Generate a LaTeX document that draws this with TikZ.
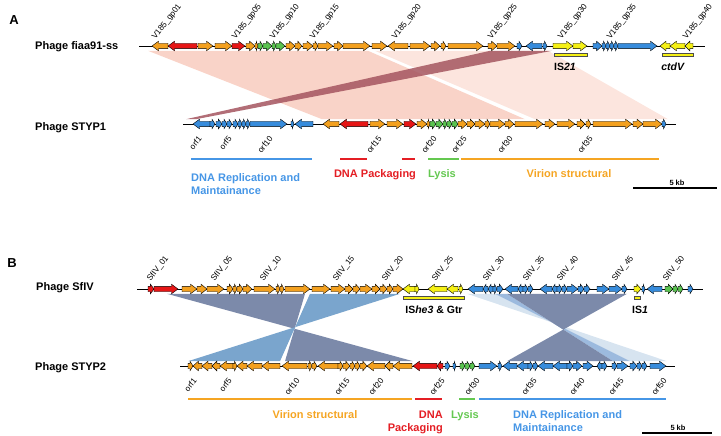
\documentclass[tikz,border=0pt]{standalone}
\usepackage{fontspec}
\setmainfont{Liberation Sans}
\definecolor{corg}{RGB}{243,160,30}
\definecolor{cred}{RGB}{230,22,22}
\definecolor{cgrn}{RGB}{90,195,80}
\definecolor{cblu}{RGB}{55,140,220}
\definecolor{cyel}{RGB}{245,240,20}
\definecolor{tblu}{RGB}{70,150,230}
\definecolor{tred}{RGB}{228,30,36}
\definecolor{tgrn}{RGB}{100,200,80}
\definecolor{torg}{RGB}{245,165,35}
\definecolor{pinkA}{RGB}{244,168,145}
\definecolor{maroon}{RGB}{165,85,95}
\definecolor{slateD}{RGB}{124,138,170}
\definecolor{slateL}{RGB}{122,165,205}
\definecolor{slateM}{RGB}{90,140,200}
\tikzset{
  gene/.style={draw=black, line width=0.4pt},
  genome/.style={draw=black, line width=0.7pt},
  glab/.style={font=\fontsize{8.2}{9}\selectfont, rotate=52, anchor=south west, inner sep=0pt},
  olab/.style={font=\fontsize{8.2}{9}\selectfont, rotate=52, anchor=east, inner sep=0pt},
  catbar/.style={line width=2.5pt},
  catlab/.style={font=\fontsize{11}{12}\selectfont\bfseries, inner sep=0pt},
  phlab/.style={font=\fontsize{11}{12}\selectfont\bfseries, anchor=base west, inner sep=0pt},
  panlab/.style={font=\fontsize{13}{14}\selectfont\bfseries, anchor=base, inner sep=0pt},
  islab/.style={font=\fontsize{10.5}{12}\selectfont\bfseries, anchor=base, inner sep=0pt},
  kblab/.style={font=\fontsize{7.5}{8}\selectfont\bfseries, anchor=base, inner sep=0pt},
  isbar/.style={draw=black!70, line width=0.4pt, fill=cyel},
  scalebar/.style={line width=1.5pt},
}
\newcommand{\drawgenes}[2]{%
  \foreach \s/\e/\c in {#2} {
    \pgfmathsetmacro{\hh}{ifthenelse(\e>\s,1,-1)*min(6.5,0.6*abs(\e-\s))}
    \filldraw[gene, fill=\c] (\s,#1-2.7) -- ({\e-\hh},#1-2.7) -- ({\e-\hh},#1-4.8) -- (\e,#1) -- ({\e-\hh},#1+4.8) -- ({\e-\hh},#1+2.7) -- (\s,#1+2.7) -- cycle;
  }}
\begin{document}
\begin{tikzpicture}[x=1pt,y=-1pt]
\useasboundingbox (0,0) rectangle (721,436);

% ---------- Panel A synteny blocks ----------
\fill[pinkA, opacity=0.5] (148,50.8) -- (368,50.8) -- (525,119.2) -- (322,119.2) -- cycle;
\fill[pinkA, opacity=0.3] (375,50.8) -- (548,50.8) -- (668,119.2) -- (535,119.2) -- cycle;
\fill[maroon, opacity=0.85] (490,50.8) -- (552,50.8) -- (196,119.2) -- (186,119.2) -- cycle;

% ---------- Panel B synteny blocks ----------
\fill[slateD] (167,293.8) -- (305,293.8) -- (285,361.2) -- (413,361.2) -- cycle;
\fill[slateL] (310,293.8) -- (400,293.8) -- (188,361.2) -- (280,361.2) -- cycle;
\fill[slateL, opacity=0.3] (467,293.8) -- (495,293.8) -- (630,361.2) -- (667,361.2) -- cycle;
\fill[slateM, opacity=0.6] (495,293.8) -- (507,293.8) -- (613,361.2) -- (630,361.2) -- cycle;
\fill[slateD] (507,293.8) -- (627,293.8) -- (507,361.2) -- (613,361.2) -- cycle;

% ---------- Panel labels ----------
\node[panlab] (labA) at (14,25) {A};
\node[panlab] (labB) at (12,267) {B};
\node[phlab] (phA1) at (35,50) {Phage fiaa91-ss};
\node[phlab] (phA2) at (35,130) {Phage STYP1};
\node[phlab] (phB1) at (36,290) {Phage SfIV};
\node[phlab] (phB2) at (35,370) {Phage STYP2};

% ---------- Genome lines ----------
\coordinate (a1s) at (139,46); \coordinate (a1e) at (705,46);
\coordinate (a2s) at (183,124); \coordinate (a2e) at (676,124);
\coordinate (b1s) at (137,289); \coordinate (b1e) at (703,289);
\coordinate (b2s) at (180,366); \coordinate (b2e) at (675,366);
\draw[genome] (a1s) -- (a1e);
\draw[genome] (a2s) -- (a2e);
\draw[genome] (b1s) -- (b1e);
\draw[genome] (b2s) -- (b2e);

% ---------- Genes: fiaa91-ss ----------
\drawgenes{46}{168/152/corg, 197/168/cred, 198/213/corg, 215/232/corg, 232/245/cred, 246/255/corg, 255/258/corg,
 258/263/cgrn, 263/272/cgrn, 272/276/cgrn, 276/285/cgrn, 286/295/corg, 295/302/corg, 303/313/corg, 313/318/corg,
 318/333/corg, 334/343/corg, 343/370/corg, 372/387/corg, 408/388/corg, 410/430/corg, 431/440/corg, 441/446/corg,
 448/483/corg, 488/497/corg, 497/515/corg, 517/522/cblu, 542/526/cblu, 543/547/cblu, 553/573/cyel, 573/587/cyel,
 593/602/cblu, 602/606/cblu, 606/610/cblu, 610/614/cblu, 614/618/cblu, 618/657/cblu, 670/660/cyel, 685/670/cyel, 693/685/cyel}

% ---------- Genes: STYP1 ----------
\drawgenes{124}{210/193/cblu, 210/215/cblu, 216/222/cblu, 222/227/cblu, 227/232/cblu, 233/238/cblu, 238/242/cblu,
 242/246/cblu, 246/250/cblu, 250/287/cblu, 291/294/cblu, 313/295/cblu, 339/323/corg, 368/340/cred, 370/385/corg,
 387/403/corg, 404/416/cred, 417/427/corg, 427/430/corg, 430/436/cgrn, 436/443/cgrn, 443/447/cgrn, 447/452/cgrn,
 452/458/cgrn, 458/467/corg, 467/475/corg, 475/485/corg, 485/490/corg, 490/505/corg, 505/514/corg, 515/543/corg,
 545/555/corg, 557/575/corg, 577/585/corg, 586/591/corg, 593/632/corg, 633/643/corg, 643/662/corg, 662/666/cblu}

% ---------- Genes: SfIV ----------
\drawgenes{289}{148/154/cred, 154/178/cred, 182/197/corg, 197/207/corg, 207/224/corg, 227/233/corg, 233/237/corg,
 237/243/corg, 243/252/corg, 254/275/corg, 276/280/corg, 280/284/corg, 285/310/corg, 312/330/corg, 331/345/corg,
 345/353/corg, 353/360/corg, 360/372/corg, 372/380/corg, 380/387/corg, 387/393/corg, 393/403/corg, 415/403/cyel,
 415/419/cyel, 447/428/cyel, 458/447/cyel, 459/463/cyel, 483/468/cblu, 488/483/cblu, 493/488/cblu, 493/497/cblu,
 497/503/cblu, 518/505/cblu, 523/518/cblu, 523/528/cblu, 528/533/cblu, 552/540/cblu, 557/552/cblu, 557/562/cblu,
 562/567/cblu, 567/578/cblu, 578/584/cblu, 584/590/cblu, 597/609/cblu, 609/622/cblu, 622/627/cblu, 634/641/cyel,
 642/645/cblu, 662/647/cblu, 665/673/cgrn, 673/678/cgrn, 678/683/cgrn, 688/693/cblu}

% ---------- Genes: STYP2 ----------
\drawgenes{366}{188/193/corg, 202/193/corg, 212/202/corg, 220/212/corg, 233/220/corg, 233/237/corg, 247/237/corg,
 262/247/corg, 280/262/corg, 307/282/corg, 308/312/corg, 312/317/corg, 338/318/corg, 338/343/corg, 343/350/corg,
 350/355/corg, 355/360/corg, 360/367/corg, 385/367/corg, 393/385/corg, 412/393/corg, 437/413/cred, 443/437/cred,
 445/450/cblu, 453/456/cblu, 460/465/cgrn, 465/470/cgrn, 470/475/cgrn, 479/497/cblu, 498/502/cblu, 517/503/cblu,
 528/517/cblu, 528/533/cblu, 533/538/cblu, 553/538/cblu, 567/553/cblu, 567/573/cblu, 573/582/cblu, 583/593/cblu,
 602/597/cblu, 602/607/cblu, 612/617/cblu, 617/628/cblu, 630/637/cblu, 637/642/cblu, 642/647/cblu, 650/666/cblu}

% ---------- Gene labels ----------
\foreach \x/\n in {157/01, 237/05, 275/10, 315/15, 397/20, 493/25, 563/30, 612/35, 688/40}
  \node[glab] (gA\n) at (\x,41) {V185\_gp\n};
\foreach \x/\n in {200/1, 230/5, 271/10, 380/15, 435/20, 465/25, 511/30, 591/35}
  \node[olab] (oA\n) at (\x,137) {orf\n};
\foreach \x/\n in {152/01, 216/05, 265/10, 338/15, 387/20, 437/25, 488/30, 528/35, 562/40, 617/45, 668/50}
  \node[glab] (gB\n) at (\x,283) {SfIV\_\n};
\foreach \x/\n in {195/1, 230/5, 298/10, 348/15, 382/20, 443/25, 478/30, 535/35, 583/40, 622/45, 665/50}
  \node[olab] (oB\n) at (\x,379) {orf\n};

% ---------- IS / ctdV bars ----------
\draw[isbar] (554,53) rectangle (587,56.5);
\draw[isbar] (662,53) rectangle (693,56.5);
\draw[isbar] (403,296) rectangle (464,299.5);
\draw[isbar] (634,296) rectangle (640,299.5);
\node[islab] (is21) at (565,71) {IS\textit{21}};
\node[islab] (ctdv) at (673,71) {\textit{ctdV}};
\node[islab] (ishe) at (434,313) {IS\textit{he3} \& Gtr};
\node[islab] (is1) at (640,313) {IS\textit{1}};

% ---------- Category bars A ----------
\draw[catbar, tblu] (191,159) -- (312,159);
\draw[catbar, tred] (340,159) -- (367,159);
\draw[catbar, tred] (402,159) -- (415,159);
\draw[catbar, tgrn] (428,159) -- (459,159);
\draw[catbar, torg] (461,159) -- (659,159);
\node[catlab, tblu, anchor=base west] (cA1) at (191,181) {DNA Replication and};
\node[catlab, tblu, anchor=base west] (cA1b) at (191,194) {Maintainance};
\node[catlab, tred, anchor=base] (cA2) at (375,177) {DNA Packaging};
\node[catlab, tgrn, anchor=base] (cA3) at (442,177) {Lysis};
\node[catlab, torg, anchor=base] (cA4) at (569,177) {Virion structural};

% ---------- Category bars B ----------
\draw[catbar, torg] (188,399) -- (412,399);
\draw[catbar, tred] (415,399) -- (442,399);
\draw[catbar, tgrn] (459,399) -- (475,399);
\draw[catbar, tblu] (479,399) -- (666,399);
\node[catlab, torg, anchor=base] (cB1) at (315,418) {Virion structural};
\node[catlab, tred, anchor=base east] (cB2) at (443,418) {DNA};
\node[catlab, tred, anchor=base east] (cB2b) at (443,431) {Packaging};
\node[catlab, tgrn, anchor=base] (cB3) at (465,418) {Lysis};
\node[catlab, tblu, anchor=base west] (cB4) at (513,418) {DNA Replication and};
\node[catlab, tblu, anchor=base west] (cB4b) at (513,431) {Maintainance};

% ---------- Scale bars ----------
\coordinate (sA1) at (633,188); \coordinate (sA2) at (717,188);
\draw[scalebar] (sA1) -- (sA2);
\node[kblab] (kbA) at (677,185) {5 kb};
\coordinate (sB1) at (642,433); \coordinate (sB2) at (712,433);
\draw[scalebar] (sB1) -- (sB2);
\node[kblab] (kbB) at (678,430) {5 kb};
\end{tikzpicture}
\end{document}
